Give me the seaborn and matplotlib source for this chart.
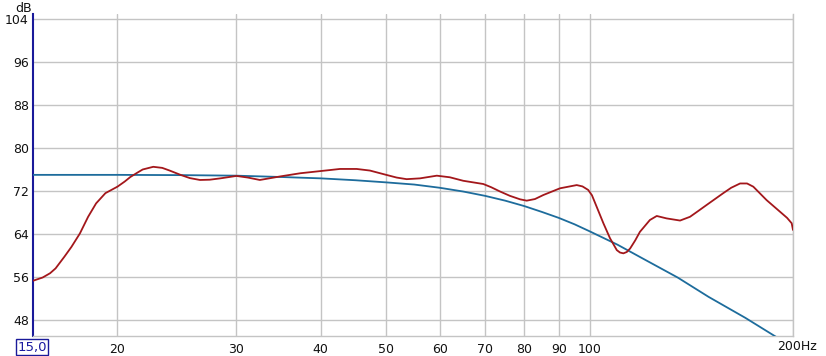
import matplotlib
matplotlib.use("Agg")
import matplotlib.pyplot as plt
import seaborn as sns
import pandas as pd
from matplotlib.ticker import NullLocator, FixedLocator

# ---- data ----
red_freq = [15.0, 15.5, 15.9, 16.2, 16.7, 17.1, 17.6, 18.1, 18.6, 19.2, 20.0, 20.5, 20.9, 21.4,
            21.8, 22.6, 23.3, 23.9, 24.8, 25.6,
            26.5, 27.4, 28.4, 30.0, 31.2, 32.5, 34.8, 37.3, 41.3, 42.7, 45.2, 47.3, 50.0, 51.8,
            53.6, 56.1, 59.4, 62.1, 65.0, 69.6, 71.5, 73.7, 76.2, 78.9, 80.7, 83.0, 85.4, 90.4,
            95.7, 97.6, 99.5, 100.8, 102.4, 104.8, 107.2, 109.7, 110.9, 112.2, 113.5, 114.8,
            116.8, 118.7, 122.8, 125.7, 130.0, 136.1, 140.8, 144.5, 149.0, 157.7, 162.0,
            167.0, 171.0, 174.7, 182.8, 191.3, 196.0, 199.1, 200.0]
red_db = [55.3, 55.9, 56.7, 57.6, 59.8, 61.6, 64.1, 67.2, 69.7, 71.6, 72.8, 73.75, 74.6, 75.4,
          76.0, 76.5, 76.3, 75.8, 75.0, 74.4,
          74.05, 74.1, 74.35, 74.8, 74.5, 74.05, 74.7, 75.3, 75.9, 76.1, 76.1, 75.8, 75.0, 74.5,
          74.2, 74.35, 74.85, 74.55, 73.9, 73.3, 72.7, 71.9, 71.1, 70.45, 70.2, 70.5, 71.25, 72.5,
          73.1, 72.85, 72.2, 71.2, 69.1, 66.0, 63.2, 61.0, 60.55, 60.4, 60.65, 61.3,
          62.8, 64.4, 66.6, 67.35, 66.9, 66.5, 67.2, 68.2, 69.4, 71.6, 72.6,
          73.4, 73.4, 72.8, 70.3, 68.15, 67.0, 66.0, 64.75]

blue_freq = [15, 20, 25, 30, 35, 40, 45, 50, 55, 60, 65, 70, 75, 80, 85, 90, 95, 100,
             110, 120, 135, 150, 170, 188, 200]
blue_db = [75.0, 75.0, 74.95, 74.85, 74.6, 74.35, 74.0, 73.6, 73.2, 72.6, 71.9, 71.1, 70.2, 69.2,
           68.1, 67.0, 65.8, 64.5, 62.0, 59.4, 55.9, 52.3, 48.4, 45.0, 43.0]

x_ticks = [20, 30, 40, 50, 60, 70, 80, 90, 100]
x_tick_labels = ["20", "30", "40", "50", "60", "70", "80", "90", "100"]
y_ticks = [48, 56, 64, 72, 80, 88, 96, 104]

red_df = pd.DataFrame({"freq": red_freq, "db": red_db})
blue_df = pd.DataFrame({"freq": blue_freq, "db": blue_db})

sns.set_style("white")
plt.rcParams["font.family"] = ["DejaVu Sans"]

fig = plt.figure(figsize=(8.26, 3.56), dpi=100)
ax = fig.add_axes([33 / 826, 1 - 336 / 356, (793 - 33) / 826, (336 - 14) / 356])

ax.set_xscale("log")
ax.set_xlim(15, 200)
ax.set_ylim(45.02, 104.93)

# grid
grid_col = "#c4c4c4"
for xv in x_ticks + [200]:
    ax.axvline(xv, color=grid_col, lw=1.0, zorder=0)
for yv in y_ticks:
    ax.axhline(yv, color=grid_col, lw=1.0, zorder=0)

sns.lineplot(data=blue_df, x="freq", y="db", ax=ax, color="#1d6c9c", lw=1.3,
             zorder=3, legend=False)
sns.lineplot(data=red_df, x="freq", y="db", ax=ax, color="#a3171b", lw=1.3,
             zorder=4, legend=False)

ax.xaxis.set_major_locator(FixedLocator(x_ticks))
ax.xaxis.set_minor_locator(NullLocator())
ax.set_xticklabels(x_tick_labels)
ax.set_yticks(y_ticks)
ax.set_yticklabels([str(v) for v in y_ticks])
ax.tick_params(axis="both", length=0, labelsize=9, colors="#111111")
ax.tick_params(axis="x", pad=5)
ax.tick_params(axis="y", pad=3)
ax.set_xlabel("")
ax.set_ylabel("")

ax.spines["top"].set_visible(False)
ax.spines["right"].set_color(grid_col)
ax.spines["right"].set_linewidth(1.0)
ax.spines["bottom"].set_color(grid_col)
ax.spines["bottom"].set_linewidth(1.0)
ax.spines["left"].set_color("#1a1a9a")
ax.spines["left"].set_linewidth(1.5)

# unit labels
fig.text(24 / 826, 1 - 8 / 356, "dB", ha="center", va="center", fontsize=9, color="#111111")
fig.text(797 / 826, 1 - 347 / 356, "200Hz", ha="center", va="center", fontsize=9, color="#111111")
fig.text(32 / 826, 1 - 347 / 356, "15,0", ha="center", va="center", fontsize=9.5,
         color="#1a1aa0",
         bbox=dict(boxstyle="square,pad=0.12", fc="white", ec="#1a1a9a", lw=1.0))

fig.savefig("out.png", dpi=100)
